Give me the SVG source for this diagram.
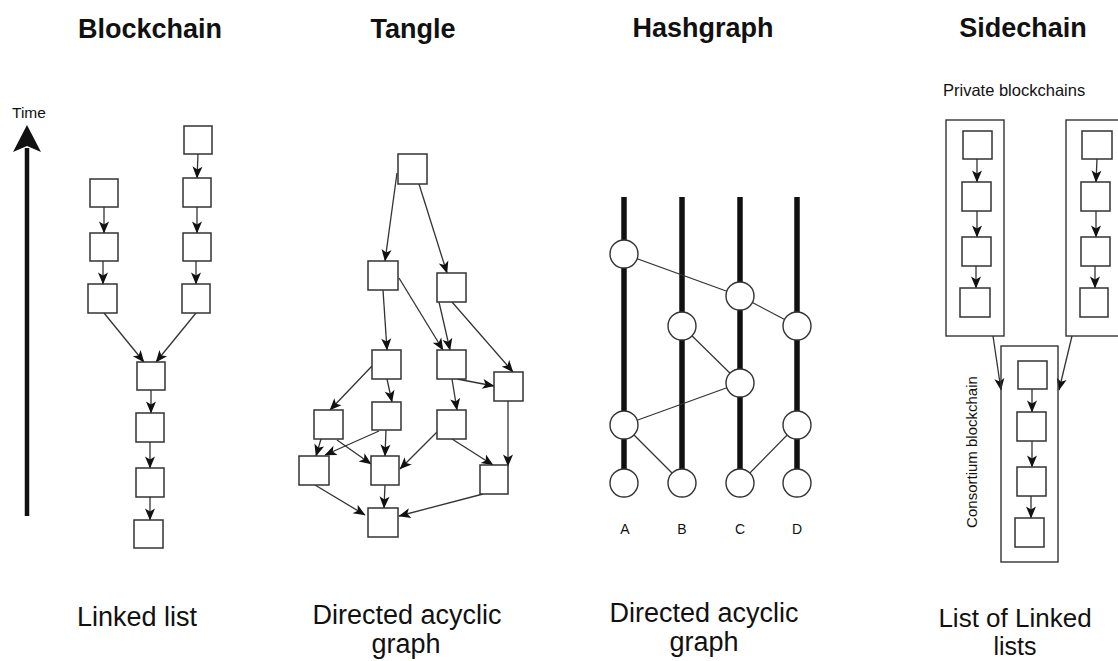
<svg xmlns="http://www.w3.org/2000/svg" width="1118" height="661" viewBox="0 0 1118 661">
<defs>
<marker id="ah" markerUnits="userSpaceOnUse" markerWidth="12" markerHeight="10" refX="11.5" refY="5" orient="auto" overflow="visible">
<path d="M0,0 L12,5 L0,10 L3,5 z" fill="#111"/>
</marker>
</defs>
<style>
.box{fill:#fff;stroke:#333;stroke-width:1.5}
.cont{fill:none;stroke:#333;stroke-width:1.4}
.e{stroke:#333;stroke-width:1.3;fill:none;marker-end:url(#ah)}
.thin{stroke:#333;stroke-width:1.2;fill:none}
.life{stroke:#111;stroke-width:5.5}
.ev{fill:#fff;stroke:#333;stroke-width:1.4}
.title{font-family:"Liberation Sans",Arial,sans-serif;font-weight:bold;font-size:27px;fill:#111;text-anchor:middle}
.lbl{font-family:"Liberation Sans",Arial,sans-serif;font-size:27px;fill:#111;text-anchor:middle}
.sm{font-family:"Liberation Sans",Arial,sans-serif;font-size:15px;fill:#111}
</style>
<rect width="1118" height="661" fill="#fff"/>

<g id="titles">
<text class="title" x="150" y="38">Blockchain</text>
<text class="title" x="413" y="38">Tangle</text>
<text class="title" x="703" y="37">Hashgraph</text>
<text class="title" x="1023" y="37">Sidechain</text>
</g>

<g id="captions">
<text class="lbl" x="137" y="626">Linked list</text>
<text class="lbl" x="407" y="624">Directed acyclic</text>
<text class="lbl" x="406" y="653">graph</text>
<text class="lbl" x="704" y="622">Directed acyclic</text>
<text class="lbl" x="704" y="651">graph</text>
<text class="lbl" x="1015" y="627" style="font-size:26px">List of Linked</text>
<text class="lbl" x="1015" y="655" style="font-size:25px">lists</text>
</g>

<g id="time-axis">
<text class="sm" x="12" y="118" style="font-size:15.5px">Time</text>
<line x1="27" y1="148" x2="27" y2="516" stroke="#111" stroke-width="4.5"/>
<polygon points="27,125 41,152 27,146 13,152" fill="#111"/>
</g>

<g id="blockchain-connectors">
<line class="e" x1="104" y1="207" x2="104" y2="233"/>
<line class="e" x1="103" y1="261" x2="103" y2="284"/>
<line class="e" x1="198" y1="154" x2="197" y2="178"/>
<line class="e" x1="197" y1="207" x2="197" y2="233"/>
<line class="e" x1="196" y1="261" x2="196" y2="284"/>
<line class="e" x1="104" y1="313" x2="144" y2="362"/>
<line class="e" x1="196" y1="313" x2="156" y2="362"/>
<line class="e" x1="151" y1="390" x2="151" y2="413"/>
<line class="e" x1="150" y1="442" x2="150" y2="468"/>
<line class="e" x1="150" y1="497" x2="150" y2="520"/>
</g>
<g id="blockchain-nodes">
<rect id="bl1" class="box" x="90" y="179" width="28" height="28"/>
<rect id="bl2" class="box" x="90" y="233" width="28" height="28"/>
<rect id="bl3" class="box" x="88" y="284" width="29" height="29"/>
<rect id="br1" class="box" x="184" y="126" width="28" height="28"/>
<rect id="br2" class="box" x="183" y="178" width="28" height="29"/>
<rect id="br3" class="box" x="183" y="233" width="28" height="28"/>
<rect id="br4" class="box" x="182" y="284" width="28" height="29"/>
<rect id="bc1" class="box" x="137" y="362" width="28" height="28"/>
<rect id="bc2" class="box" x="136" y="413" width="28" height="29"/>
<rect id="bc3" class="box" x="136" y="468" width="28" height="29"/>
<rect id="bc4" class="box" x="134" y="520" width="29" height="28"/>
</g>

<g id="tangle-connectors">
<line class="e" x1="397" y1="173" x2="385" y2="261"/>
<line class="e" x1="419" y1="184" x2="447" y2="273"/>
<line class="e" x1="383" y1="290" x2="387" y2="350"/>
<line class="e" x1="399" y1="278" x2="443" y2="350"/>
<line class="e" x1="439" y1="302" x2="450" y2="350"/>
<line class="e" x1="452" y1="302" x2="513" y2="372"/>
<line class="e" x1="457" y1="379" x2="494" y2="386"/>
<line class="e" x1="452" y1="379" x2="457" y2="410"/>
<line class="e" x1="372" y1="366" x2="330" y2="410"/>
<line class="e" x1="387" y1="379" x2="392" y2="402"/>
<line class="e" x1="321" y1="439" x2="316" y2="456"/>
<line class="e" x1="337" y1="440" x2="371" y2="464"/>
<line class="e" x1="379" y1="431" x2="325" y2="455"/>
<line class="e" x1="386" y1="430" x2="385" y2="456"/>
<line class="e" x1="437" y1="432" x2="400" y2="469"/>
<line class="e" x1="452" y1="439" x2="493" y2="465"/>
<line class="e" x1="508" y1="401" x2="508" y2="466"/>
<line class="e" x1="315" y1="485" x2="365" y2="515"/>
<line class="e" x1="385" y1="485" x2="384" y2="508"/>
<line class="e" x1="483" y1="494" x2="399" y2="516"/>
</g>
<g id="tangle-nodes">
<rect id="tA" class="box" x="398" y="154" width="29" height="30"/>
<rect id="tB" class="box" x="368" y="261" width="30" height="29"/>
<rect id="tC" class="box" x="437" y="273" width="29" height="29"/>
<rect id="tD" class="box" x="372" y="350" width="29" height="29"/>
<rect id="tE" class="box" x="437" y="350" width="29" height="29"/>
<rect id="tF" class="box" x="494" y="372" width="29" height="29"/>
<rect id="tG" class="box" x="314" y="410" width="29" height="29"/>
<rect id="tH" class="box" x="372" y="402" width="29" height="28"/>
<rect id="tI" class="box" x="437" y="410" width="29" height="29"/>
<rect id="tJ" class="box" x="299" y="456" width="30" height="29"/>
<rect id="tK" class="box" x="371" y="456" width="28" height="29"/>
<rect id="tL" class="box" x="480" y="465" width="28" height="29"/>
<rect id="tM" class="box" x="368" y="508" width="30" height="29"/>
</g>

<g id="hashgraph-lifelines">
<line class="life" x1="624" y1="197" x2="624" y2="483"/>
<line class="life" x1="682" y1="197" x2="682" y2="483"/>
<line class="life" x1="740" y1="197" x2="740" y2="483"/>
<line class="life" x1="797" y1="197" x2="797" y2="483"/>
</g>
<g id="hashgraph-connectors">
<line class="thin" x1="624" y1="254" x2="740" y2="296"/>
<line class="thin" x1="740" y1="296" x2="797" y2="326"/>
<line class="thin" x1="682" y1="326" x2="740" y2="383"/>
<line class="thin" x1="740" y1="383" x2="624" y2="425"/>
<line class="thin" x1="624" y1="425" x2="682" y2="483"/>
<line class="thin" x1="740" y1="483" x2="797" y2="425"/>
</g>
<g id="hashgraph-nodes">
<circle id="hA1" class="ev" cx="624" cy="254" r="14"/>
<circle id="hC1" class="ev" cx="740" cy="296" r="14"/>
<circle id="hB1" class="ev" cx="682" cy="326" r="14"/>
<circle id="hD1" class="ev" cx="797" cy="326" r="14"/>
<circle id="hC2" class="ev" cx="740" cy="383" r="14"/>
<circle id="hA2" class="ev" cx="624" cy="425" r="14"/>
<circle id="hD2" class="ev" cx="797" cy="425" r="14"/>
<circle id="hA0" class="ev" cx="624" cy="483" r="14"/>
<circle id="hB0" class="ev" cx="682" cy="483" r="14"/>
<circle id="hC0" class="ev" cx="740" cy="483" r="14"/>
<circle id="hD0" class="ev" cx="797" cy="483" r="14"/>
</g>
<g id="hashgraph-labels" font-family="Liberation Sans, Arial, sans-serif" font-size="14" fill="#111" text-anchor="middle">
<text x="625" y="534">A</text>
<text x="682" y="534">B</text>
<text x="740" y="534">C</text>
<text x="797" y="534">D</text>
</g>

<g id="sidechain-labels">
<text class="sm" x="943" y="96" style="font-size:16.5px">Private blockchains</text>
<text class="sm" transform="translate(977,452) rotate(-90)" text-anchor="middle">Consortium blockchain</text>
</g>
<g id="sidechain-connectors">
<line class="e" x1="977" y1="159" x2="977" y2="182"/>
<line class="e" x1="977" y1="211" x2="977" y2="237"/>
<line class="e" x1="976" y1="266" x2="976" y2="288"/>
<line class="e" x1="1097" y1="159" x2="1096" y2="182"/>
<line class="e" x1="1096" y1="211" x2="1096" y2="237"/>
<line class="e" x1="1095" y1="266" x2="1095" y2="288"/>
<line class="e" x1="1032" y1="389" x2="1032" y2="412"/>
<line class="e" x1="1032" y1="441" x2="1032" y2="467"/>
<line class="e" x1="1031" y1="496" x2="1031" y2="518"/>
<line class="e" x1="993" y1="336" x2="1001" y2="390"/>
<line class="e" x1="1072" y1="336" x2="1059" y2="390"/>
</g>
<g id="sidechain-private-left">
<rect class="cont" x="946" y="120" width="58" height="216"/>
<rect class="box" x="963" y="131" width="29" height="28"/>
<rect class="box" x="962" y="182" width="29" height="29"/>
<rect class="box" x="962" y="237" width="29" height="29"/>
<rect class="box" x="960" y="288" width="30" height="29"/>
</g>
<g id="sidechain-private-right">
<rect class="cont" x="1066" y="120" width="70" height="216"/>
<rect class="box" x="1082" y="131" width="30" height="28"/>
<rect class="box" x="1081" y="182" width="29" height="29"/>
<rect class="box" x="1081" y="237" width="29" height="29"/>
<rect class="box" x="1080" y="288" width="28" height="29"/>
</g>
<g id="sidechain-consortium">
<rect class="cont" x="1001" y="346" width="57" height="216"/>
<rect class="box" x="1018" y="361" width="29" height="28"/>
<rect class="box" x="1017" y="412" width="29" height="29"/>
<rect class="box" x="1017" y="467" width="29" height="29"/>
<rect class="box" x="1015" y="518" width="29" height="29"/>
</g>
</svg>
